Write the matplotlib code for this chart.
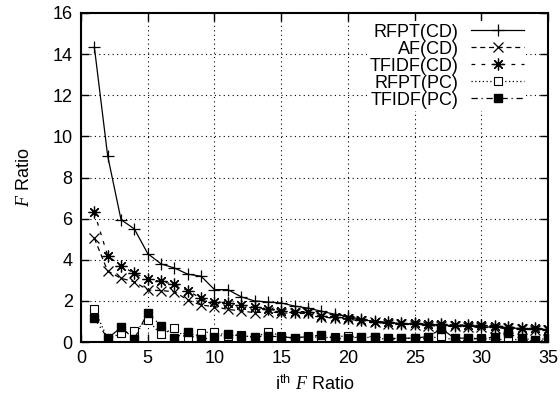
import matplotlib
matplotlib.use("Agg")
import matplotlib.pyplot as plt
import numpy as np

plt.rcParams['font.family'] = ['Liberation Sans', 'DejaVu Sans']
plt.rcParams['mathtext.fontset'] = 'custom'
plt.rcParams['mathtext.rm'] = 'Liberation Sans'
plt.rcParams['mathtext.it'] = 'Liberation Serif:italic'

x = list(range(1, 36))
rfpt_cd = [14.35, 9.05, 5.95, 5.5, 4.3, 3.8, 3.6, 3.3, 3.2, 2.55, 2.55, 2.2, 2.0, 1.95, 1.9,
           1.75, 1.65, 1.5, 1.35, 1.25, 1.1, 1.0, 0.95, 0.9, 0.88, 0.85, 0.82, 0.8, 0.78,
           0.75, 0.72, 0.7, 0.65, 0.62, 0.6]
af_cd = [5.05, 3.45, 3.1, 2.93, 2.53, 2.5, 2.45, 2.04, 1.8, 1.72, 1.59, 1.51, 1.43, 1.47, 1.42,
         1.39, 1.39, 1.23, 1.15, 1.1, 1.04, 0.96, 0.9, 0.86, 0.85, 0.8, 0.78, 0.76, 0.75,
         0.72, 0.7, 0.66, 0.62, 0.6, 0.57]
tfidf_cd = [6.3, 4.2, 3.7, 3.35, 3.05, 2.95, 2.8, 2.5, 2.12, 1.96, 1.91, 1.8, 1.69, 1.59, 1.52,
            1.48, 1.48, 1.28, 1.23, 1.15, 1.07, 0.99, 0.96, 0.91, 0.91, 0.88, 0.86, 0.83, 0.83,
            0.83, 0.78, 0.75, 0.67, 0.67, 0.62]
rfpt_pc = [1.6, 0.15, 0.42, 0.53, 1.07, 0.37, 0.67, 0.13, 0.45, 0.5, 0.3, 0.35, 0.2, 0.5, 0.3,
           0.15, 0.3, 0.2, 0.25, 0.3, 0.2, 0.25, 0.1, 0.15, 0.2, 0.15, 0.3, 0.05, 0.1,
           0.2, 0.1, 0.15, 0.1, 0.05, 0.1]
tfidf_pc = [1.15, 0.18, 0.71, 0.15, 1.43, 0.78, 0.2, 0.5, 0.13, 0.23, 0.39, 0.29, 0.26, 0.29, 0.25,
            0.21, 0.26, 0.34, 0.18, 0.18, 0.26, 0.26, 0.18, 0.18, 0.2, 0.26, 0.65, 0.18, 0.2,
            0.15, 0.26, 0.42, 0.18, 0.1, 0.18]

fs = 13
fig = plt.figure(figsize=(5.6, 4.01), dpi=100)
ax = fig.add_axes([0.1446, 0.147, 0.979 - 0.1446, 0.9676 - 0.147])

lw = 0.9
ax.plot(x, rfpt_cd, color='black', lw=lw, ls='-', marker='+', ms=8, mew=0.9, label='RFPT(CD)')
ax.plot(x, af_cd, color='black', lw=lw, ls=(0, (4, 3)), marker='x', ms=7, mew=0.9, label='AF(CD)')
ax.plot(x, tfidf_cd, color='black', lw=lw, ls=(0, (3, 5)), marker=(8, 2, 0), ms=8.5, mew=0.9, label='TFIDF(CD)')
ax.plot(x, rfpt_pc, color='black', lw=lw, ls=(0, (1, 2)), marker='s', ms=6, mew=0.8, mfc='white', label='RFPT(PC)')
ax.plot(x, tfidf_pc, color='black', lw=lw, ls=(0, (5, 3, 1, 3)), marker='s', ms=6, mfc='black', label='TFIDF(PC)')

ax.set_xlim(0, 35)
ax.set_ylim(0, 16)
ax.set_xticks(range(0, 36, 5))
ax.set_yticks(range(0, 17, 2))
ax.grid(True, color='black', ls=(0, (1, 3)), lw=0.8)
ax.tick_params(direction='in', top=True, right=True, length=6, width=1, labelsize=fs, pad=6)
for s in ax.spines.values():
    s.set_linewidth(1.5)

ax.set_xlabel(r'i$^{\rm th}$ $F$ Ratio', fontsize=fs, labelpad=5)
ax.set_ylabel(r'$F$ Ratio', fontsize=fs, labelpad=14)

leg = ax.legend(loc='upper right', bbox_to_anchor=(0.94, 0.948), bbox_transform=fig.transFigure,
                frameon=True, fancybox=False, facecolor='white', edgecolor='none', framealpha=1,
                markerfirst=False, fontsize=fs, handlelength=2.9,
                handletextpad=0.7, labelspacing=0.0, borderpad=0.15, borderaxespad=0)

fig.savefig('out.png', dpi=100)
